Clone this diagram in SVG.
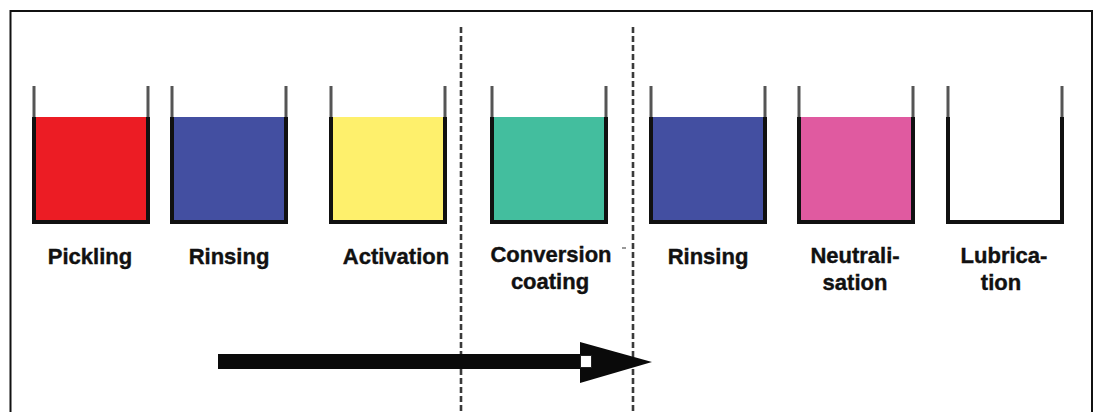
<svg xmlns="http://www.w3.org/2000/svg" width="1096" height="412" viewBox="0 0 1096 412">
  <style>
    .label { font-family: "Liberation Sans", Arial, sans-serif; font-weight: bold; font-size: 22px; fill: #111; stroke: #111; stroke-width: 0.4; text-anchor: middle; }
    .rim { fill: none; stroke: #555; stroke-width: 3; }
    .wall { fill: none; stroke: #111; stroke-width: 4; stroke-linejoin: miter; }
    .divider { stroke: #3a3a3a; stroke-width: 2.6; stroke-dasharray: 6 3; }
  </style>
  <defs>
    <!-- open tank: thin rims above the liquid line, heavy walls and floor below -->
    <g id="tank">
      <path class="rim" d="M2,86 V118 M116,86 V118"/>
      <path class="wall" d="M2,117 V222 H116 V117"/>
    </g>
  </defs>

  <rect x="0" y="0" width="1096" height="412" fill="#fff"/>
  <!-- frame -->
  <path d="M10.5,420 V11 H1092 V420" fill="none" stroke="#111" stroke-width="2"/>

  <!-- process stage dividers -->
  <g id="dividers">
    <line class="divider" x1="461" y1="27" x2="461" y2="412"/>
    <line class="divider" x1="633" y1="27" x2="633" y2="412"/>
    <line x1="622" y1="248" x2="626" y2="248" stroke="#777" stroke-width="1.5"/>
  </g>

  <g id="pickling" transform="translate(32,0)">
    <rect x="2" y="117" width="114" height="105" fill="#EC1C24"/>
    <use href="#tank"/>
    <text class="label" x="58" y="264">Pickling</text>
  </g>

  <g id="rinsing1" transform="translate(170,0)">
    <rect x="2" y="117" width="114" height="105" fill="#434FA1"/>
    <use href="#tank"/>
    <text class="label" x="59" y="264">Rinsing</text>
  </g>

  <g id="activation" transform="translate(329,0)">
    <rect x="2" y="117" width="114" height="105" fill="#FEF06C"/>
    <use href="#tank"/>
    <text class="label" x="67" y="264">Activation</text>
  </g>

  <g id="conversion-coating" transform="translate(490,0)">
    <rect x="2" y="117" width="114" height="105" fill="#43BE9E"/>
    <use href="#tank"/>
    <text class="label" x="61" y="262">Conversion</text>
    <text class="label" x="60" y="289">coating</text>
  </g>

  <g id="rinsing2" transform="translate(649,0)">
    <rect x="2" y="117" width="114" height="105" fill="#434FA1"/>
    <use href="#tank"/>
    <text class="label" x="59" y="264">Rinsing</text>
  </g>

  <g id="neutralisation" transform="translate(797,0)">
    <rect x="2" y="117" width="114" height="105" fill="#E05AA0"/>
    <use href="#tank"/>
    <text class="label" x="58" y="263">Neutrali-</text>
    <text class="label" x="58" y="290">sation</text>
  </g>

  <g id="lubrication" transform="translate(946,0)">
    <use href="#tank"/>
    <text class="label" x="58" y="263">Lubrica-</text>
    <text class="label" x="55" y="290">tion</text>
  </g>

  <!-- process direction arrow -->
  <g id="connectors">
    <rect x="218" y="354" width="362" height="15" fill="#0a0a0a"/>
    <polygon points="580,342 652,362 580,383" fill="#0a0a0a"/>
    <rect x="580.5" y="355.5" width="11" height="12" fill="#fff" stroke="#222" stroke-width="1"/>
  </g>
</svg>
